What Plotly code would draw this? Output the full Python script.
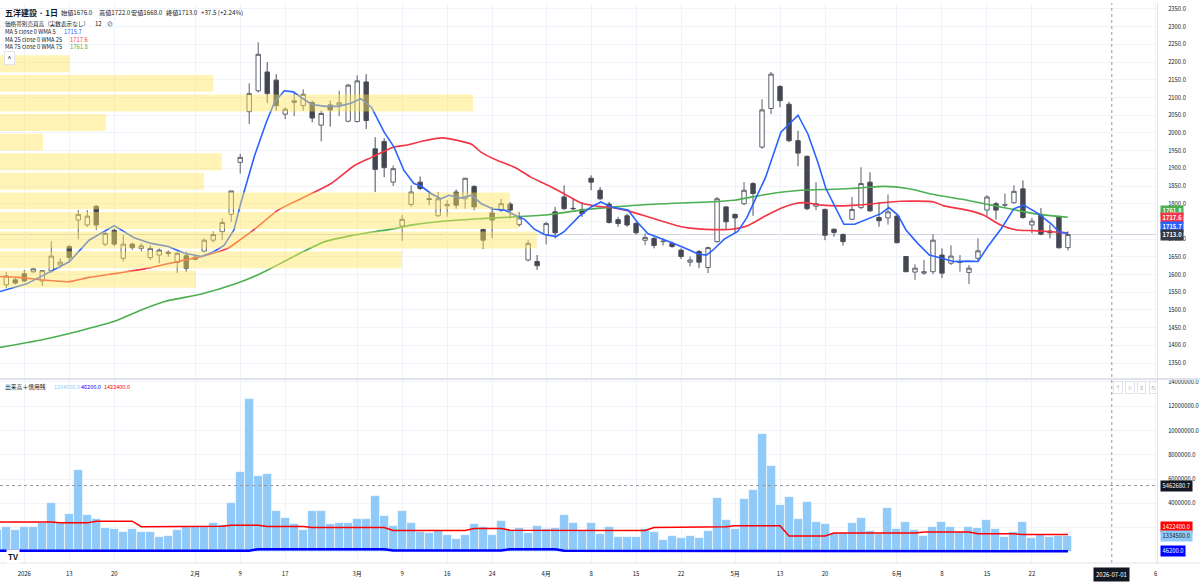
import pandas as pd
import plotly.graph_objects as go
from plotly.subplots import make_subplots

FONT = "Noto Sans CJK JP, Noto Sans, sans-serif"
INK = "#131722"
GRID = "#f0f3fa"
BORDER = "#e0e3eb"

# ── sessions on screen (TSE), 2025-12-26 .. 2026-06-26 ─────────────────────
tse_holidays = ["2025-12-31", "2026-01-01", "2026-01-02", "2026-01-12", "2026-02-11",
                "2026-02-23", "2026-03-20", "2026-04-29", "2026-05-04", "2026-05-05",
                "2026-05-06"]
sessions = [d for d in pd.bdate_range("2025-12-26", "2026-06-26")
            if d.strftime("%Y-%m-%d") not in tse_holidays]
bar = [i - 3 for i in range(len(sessions))]  # 0 = first session of 2026

# ── daily OHLC ────────────────────────────────────────────────────────────
opens = [1562, 1571, 1585, 1602, 1608, 1582, 1610, 1627, 1679, 1754,
         1740, 1793, 1686, 1725, 1646, 1686, 1674, 1648, 1655, 1663,
         1634, 1653, 1649, 1666, 1697, 1721, 1770, 1917, 2060, 2119,
         2172, 2149, 2053, 2086, 2077, 2086, 2022, 2079, 2079, 2033,
         2032, 2144, 1955, 1976, 1861, 1737, 1798, 1861, 1814, 1766,
         1794, 1833, 1814, 1849, 1727, 1774, 1782, 1799, 1741, 1641,
         1637, 1713, 1777, 1819, 1787, 1784, 1872, 1838, 1799, 1755,
         1766, 1744, 1697, 1702, 1693, 1688, 1669, 1635, 1665, 1620,
         1693, 1791, 1770, 1800, 1857, 1960, 2069, 2131, 2081, 1978,
         1934, 1793, 1784, 1728, 1713, 1756, 1789, 1861, 1761, 1760,
         1765, 1651, 1607, 1604, 1608, 1655, 1632, 1634, 1606, 1646,
         1782, 1800, 1796, 1803, 1842, 1740, 1770, 1723, 1763, 1676]
highs = [1566, 1608, 1590, 1613, 1619, 1613, 1694, 1646, 1683, 1782,
         1782, 1796, 1722, 1730, 1711, 1690, 1688, 1683, 1674, 1668,
         1665, 1665, 1655, 1702, 1722, 1758, 1836, 1941, 2140, 2256,
         2200, 2166, 2072, 2114, 2123, 2091, 2063, 2091, 2119, 2138,
         2163, 2166, 1988, 1985, 1908, 1768, 1852, 1877, 1833, 1833,
         1810, 1840, 1873, 1852, 1730, 1791, 1814, 1805, 1777, 1697,
         1655, 1749, 1791, 1852, 1814, 1805, 1880, 1847, 1805, 1763,
         1772, 1749, 1716, 1707, 1702, 1693, 1674, 1651, 1669, 1679,
         1819, 1793, 1772, 1861, 1861, 2095, 2172, 2135, 2088, 2006,
         1936, 1861, 1786, 1730, 1716, 1819, 1903, 1889, 1805, 1826,
         1768, 1652, 1629, 1641, 1714, 1674, 1683, 1655, 1627, 1702,
         1824, 1805, 1829, 1852, 1866, 1760, 1788, 1741, 1766, 1722]
lows = [1550, 1562, 1572, 1578, 1604, 1568, 1605, 1618, 1636, 1700,
        1735, 1726, 1680, 1680, 1637, 1670, 1665, 1641, 1632, 1650,
        1604, 1608, 1640, 1662, 1690, 1697, 1749, 1885, 2025, 2114,
        2084, 2063, 2039, 2048, 2063, 2030, 1976, 2018, 2048, 2030,
        2030, 2011, 1833, 1875, 1850, 1695, 1791, 1838, 1796, 1763,
        1763, 1786, 1786, 1782, 1672, 1702, 1777, 1758, 1735, 1637,
        1613, 1685, 1702, 1782, 1782, 1763, 1838, 1810, 1744, 1735,
        1735, 1713, 1683, 1674, 1682, 1676, 1644, 1623, 1618, 1604,
        1690, 1726, 1716, 1796, 1766, 1955, 2053, 2072, 1974, 1906,
        1782, 1782, 1697, 1707, 1682, 1754, 1785, 1777, 1735, 1741,
        1688, 1607, 1585, 1599, 1601, 1590, 1627, 1608, 1573, 1637,
        1763, 1755, 1791, 1800, 1758, 1716, 1711, 1702, 1674, 1668]
closes = [1555, 1596, 1576, 1582, 1616, 1611, 1652, 1635, 1648, 1770,
          1765, 1740, 1716, 1686, 1686, 1676, 1681, 1674, 1669, 1660,
          1660, 1618, 1643, 1697, 1713, 1747, 1836, 1931, 2111, 2222,
          2111, 2077, 2067, 2091, 2109, 2042, 2055, 2065, 2085, 2135,
          2147, 2035, 1897, 1902, 1899, 1756, 1833, 1843, 1812, 1814,
          1798, 1796, 1872, 1791, 1697, 1754, 1800, 1782, 1760, 1688,
          1625, 1744, 1718, 1786, 1786, 1772, 1861, 1814, 1747, 1744,
          1740, 1718, 1705, 1682, 1694, 1679, 1651, 1641, 1635, 1676,
          1814, 1749, 1760, 1838, 1829, 2065, 2166, 2091, 1978, 1943,
          1786, 1800, 1711, 1719, 1693, 1784, 1857, 1780, 1752, 1777,
          1690, 1608, 1618, 1608, 1697, 1604, 1652, 1635, 1618, 1667,
          1819, 1782, 1797, 1835, 1761, 1751, 1714, 1718, 1675.5, 1713]

# ── daily volume (shares) ─────────────────────────────────────────────────
volume = [1820000, 2090000, 1790000, 2090000, 2010000, 2420000, 4000000, 2370000, 3100000, 6780000,
          3020000, 2690000, 1960000, 1850000, 1660000, 1850000, 1660000, 1660000, 1250000, 1330000,
          1820000, 2090000, 2090000, 2090000, 2420000, 2230000, 4000000, 6620000, 12560000, 6290000,
          6450000, 3400000, 2770000, 2260000, 1820000, 3400000, 3350000, 2310000, 2390000, 2340000,
          2690000, 2690000, 4600000, 2940000, 2150000, 3350000, 2420000, 1660000, 1550000, 1740000,
          1360000, 1080000, 1410000, 2280000, 2070000, 1410000, 2560000, 1820000, 1930000, 1550000,
          2150000, 1870000, 1930000, 3070000, 2340000, 1740000, 2420000, 1470000, 2090000, 1190000,
          1250000, 1250000, 1880000, 1600000, 1000000, 1300000, 1140000, 1300000, 1140000, 1710000,
          4440000, 2640000, 1900000, 4350000, 5140000, 9750000, 7110000, 3890000, 4550000, 2690000,
          4110000, 2470000, 2260000, 1550000, 1550000, 2390000, 2770000, 1740000, 1440000, 3620000,
          1880000, 2450000, 1770000, 1300000, 2090000, 2450000, 2010000, 1600000, 2040000, 1980000,
          2610000, 1850000, 1190000, 1630000, 2450000, 1140000, 1380000, 1250000, 1300000, 1334500]

# ── margin balances (weekly, held until next figure): start bar, value ────
margin_buy_from = [-3, 4, 8, 13, 18, 23, 27, 32, 41, 50, 54, 60, 70, 74, 79, 85, 90, 100, 106, 111]
margin_buy = [2470000, 2390000, 2530000, 2070000, 2120000, 2200000, 2090000, 2010000, 1770000,
              1930000, 1790000, 1760000, 2010000, 2070000, 2150000, 1300000, 1550000, 1630000,
              1490000, 1422400]
margin_sell_from = [-3, 26, 41, 54, 60, 90]
margin_sell = [100000, 220000, 120000, 220000, 100000, 46200]

# ── weighted moving averages ──────────────────────────────────────────────
ma5_x = [-3, 0.2, 2.2, 5, 7.2, 10, 12.2, 14.1, 16, 17.8, 19.7, 21.1, 22.2, 23.3, 24.1, 25.6,
         26.9, 27.8, 28.9, 29.9, 30.8, 31.9, 33.4, 34.9, 36.3, 37.4, 38.6, 40, 41.1, 42.2, 43.3,
         44.1, 45.2, 46.3, 47.2, 48.6, 49.7, 50.8, 52.1, 53.4, 54.5, 55.6, 56.7, 57.8, 59.1, 60,
         61.6, 63, 64.1, 65.2, 67.1, 68.2, 69.3, 70.8, 72.2, 73.8, 74.9, 75.8, 76.5, 77.8, 79.3,
         80.3, 81.2, 82.4, 84.1, 86, 87.1, 88.2, 89.1, 90, 91.1, 92.3, 93.8, 95.2, 96.1, 97.1, 98,
         99.3, 100.6, 101.9, 103.3, 104.9, 106, 107.1, 108.6, 110, 111.1, 112.7, 114.1, 115, 116]
ma5_y = [1550, 1573, 1599, 1636, 1697, 1738, 1704, 1688, 1679, 1660, 1651, 1665, 1682, 1726, 1805,
         1936, 2030, 2086, 2119, 2116, 2100, 2081, 2075, 2075, 2084, 2097, 2072, 2002, 1960, 1894,
         1857, 1850, 1829, 1814, 1824, 1816, 1824, 1800, 1785, 1782, 1768, 1756, 1728, 1713, 1707,
         1721, 1763, 1791, 1805, 1791, 1782, 1746, 1716, 1702, 1688, 1671, 1658, 1655, 1668, 1700,
         1722, 1760, 1810, 1875, 2002, 2050, 1997, 1917, 1843, 1796, 1742, 1742, 1758, 1772, 1789,
         1768, 1726, 1688, 1655, 1646, 1637, 1638, 1637, 1679, 1730, 1786, 1796, 1772, 1744, 1721,
         1715.7]
ma25_x = [-3, -0.6, 2.2, 5, 7.2, 10.4, 13.4, 17.1, 19.7, 22.6, 24.1, 25.6, 28.2, 30.8, 34.1, 36.7,
          38.6, 41.1, 42.6, 44.1, 46.5, 49.7, 50.8, 52.6, 54.5, 56.3, 58.2, 60, 61.9, 63.7, 65.6,
          67.5, 69.3, 71.1, 73, 74.9, 76.7, 78.6, 80.4, 82.2, 84.1, 85.6, 86.7, 88.6, 90.8, 92.6,
          94.4, 97.4, 101.1, 102.2, 104.8, 106.6, 108.5, 110.3, 112.2, 114.1, 116]
ma25_y = [1595, 1592, 1584, 1580, 1592, 1604, 1616, 1637, 1651, 1674, 1700, 1728, 1782, 1815, 1857,
          1908, 1931, 1960, 1966, 1976, 1986, 1968, 1945, 1922, 1903, 1875, 1852, 1828, 1802, 1793,
          1788, 1777, 1763, 1749, 1735, 1729, 1727, 1728, 1738, 1763, 1787, 1800, 1803, 1796, 1794,
          1796, 1800, 1807, 1805, 1794, 1782, 1768, 1740, 1726, 1724, 1721, 1717.6]
ma75_x = [-3, 2, 6, 10, 13, 15.6, 19.7, 23.4, 25.6, 27, 30.8, 33.4, 36.3, 38.9, 41, 43.3, 47.1,
          50.8, 54.5, 58.2, 61.9, 65.6, 69.3, 73, 76, 78.9, 82.6, 86.3, 90, 92.6, 95.6, 98.2,
          101.1, 104.8, 108.5, 112.2, 116]
ma75_y = [1393, 1416, 1440, 1468, 1500, 1524, 1545, 1573, 1595, 1612, 1662, 1693, 1710, 1721, 1729,
          1741, 1752, 1758, 1763, 1769, 1782, 1791, 1798, 1802, 1805, 1810, 1827, 1838, 1841, 1844,
          1849, 1843, 1826, 1810, 1791, 1772, 1761.8]

# ── volume profile: 12 rows, top row first, relative volume ───────────────
vp_high, vp_low = 2223, 1559
vp_volume = [13.0, 39.7, 88.1, 19.7, 8.0, 41.3, 38.0, 95.0, 96.6, 100.0, 74.9, 36.5]

# ── axis labels ───────────────────────────────────────────────────────────
tick_dates = ["2026-01-05", "2026-01-13", "2026-01-20", "2026-02-02", "2026-02-09", "2026-02-17",
              "2026-03-02", "2026-03-09", "2026-03-16", "2026-03-24", "2026-04-01", "2026-04-08",
              "2026-04-15", "2026-04-22", "2026-05-01", "2026-05-13", "2026-05-20", "2026-06-01",
              "2026-06-08", "2026-06-15", "2026-06-22", "2026-07-06"]
tick_text = ["2026", "13", "20", "2月", "9", "17", "3月", "9", "16", "24", "4月", "8", "15", "22",
             "5月", "13", "20", "6月", "8", "15", "22", "6"]
price_ticks = list(range(1350, 2351, 50))
volume_ticks = list(range(2000000, 14000001, 2000000))
hidden_price_labels = [1750]          # sits under the price tags
hidden_volume_labels = [2000000]
cursor_date = "2026-07-01"
cursor_volume = 5462680.7
last_close = 1713.0


def bar_of(date):
    d = pd.Timestamp(date)
    if d in sessions:
        return bar[sessions.index(d)]
    # beyond the last bar the time scale runs on calendar days
    return bar[-1] + (d - sessions[-1]).days * 0.975


def held(starts, values):
    out = []
    for b in bar:
        v = values[0]
        for s, val in zip(starts, values):
            if b >= s:
                v = val
        out.append(v)
    return out


tick_pos = [bar_of(d) for d in tick_dates]
cursor_x = bar_of(cursor_date)

fig = make_subplots(rows=2, cols=1, shared_xaxes=True, vertical_spacing=0.004)

fig.add_trace(go.Candlestick(
    x=bar, open=opens, high=highs, low=lows, close=closes,
    increasing=dict(fillcolor="#ffffff", line=dict(color="#5d606b", width=1)),
    decreasing=dict(fillcolor="#434651", line=dict(color="#4a4d57", width=1)),
    whiskerwidth=0, hoverinfo="skip", showlegend=False), row=1, col=1)
fig.add_trace(go.Scatter(x=ma75_x, y=ma75_y, mode="lines", line=dict(color="#4caf50", width=1.6, shape="spline", smoothing=0.6),
                         hoverinfo="skip"), row=1, col=1)
fig.add_trace(go.Scatter(x=ma25_x, y=ma25_y, mode="lines", line=dict(color="#f23645", width=1.6, shape="spline", smoothing=0.6),
                         hoverinfo="skip"), row=1, col=1)
fig.add_trace(go.Scatter(x=ma5_x, y=ma5_y, mode="lines", line=dict(color="#2962ff", width=1.6),
                         hoverinfo="skip"), row=1, col=1)

fig.add_trace(go.Bar(x=bar, y=volume, width=1.0,
                     marker=dict(color="#90caf9", line=dict(color="rgba(255,255,255,0.75)", width=0.8)),
                     hoverinfo="skip"), row=2, col=1)
fig.add_trace(go.Scatter(x=bar, y=held(margin_buy_from, margin_buy), mode="lines",
                         line=dict(color="#ff0000", width=1.5), hoverinfo="skip"), row=2, col=1)
fig.add_trace(go.Scatter(x=bar, y=held(margin_sell_from, margin_sell), mode="lines",
                         line=dict(color="#0000ff", width=2.5), hoverinfo="skip"), row=2, col=1)

# volume profile rows, drawn over candles like the original
pitch = (vp_high - vp_low) / len(vp_volume)
for k, v in enumerate(vp_volume):
    hi = vp_high - k * pitch - 0.068 * pitch
    lo = vp_high - (k + 1) * pitch + 0.068 * pitch
    fig.add_shape(type="rect", xref="x domain", yref="y", x0=0, x1=v / 100 * 0.464,
                  y0=lo, y1=hi, fillcolor="rgba(255,230,90,0.45)", line_width=0, layer="above")

# last price line, crosshair, pane borders
fig.add_shape(type="line", xref="paper", yref="y", x0=0, x1=1, y0=last_close, y1=last_close,
              line=dict(color="#d1d4dc", width=1), layer="below")
fig.add_shape(type="line", xref="x", yref="paper", x0=cursor_x, x1=cursor_x, y0=0, y1=1,
              line=dict(color="#9598a1", width=1, dash="dot"), layer="above")
fig.add_shape(type="line", xref="paper", yref="y2", x0=0, x1=1, y0=cursor_volume, y1=cursor_volume,
              line=dict(color="#9598a1", width=1, dash="dot"), layer="above")
fig.add_shape(type="line", xref="paper", yref="paper", x0=0, x1=1.04, y0=0.3286, y1=0.3286,
              line=dict(color=BORDER, width=2))
fig.add_shape(type="line", xref="paper", yref="paper", x0=0, x1=1.04, y0=0, y1=0,
              line=dict(color=BORDER, width=1))

PW, PH = 1157, 563


def px(v):
    return v / PW


def py(v):
    return 1 - v / PH


def text(s, x, y, size=6, color=INK, **kw):
    fig.add_annotation(text=s, x=px(x), y=py(y), xref="paper", yref="paper", xanchor="left",
                       yanchor="middle", showarrow=False, font=dict(size=size, color=color, family=FONT), **kw)


# legend header
text("<b>五洋建設 · 1日</b>", 3, 10, size=8)
for s, x in [("始値1676.0", 59), ("高値1722.0", 97), ("安値1668.0", 129), ("終値1713.0", 164),
             ("+37.5 (+2.24%)", 199)]:
    text(s, x, 10, size=6.2)
text("価格帯別売買高（実数表示なし）", 3, 20.7, size=5.6)
text("12", 93, 20.7, size=6)
text("⊘", 105, 20.7, size=6)
text("MA 5 close 0 WMA 5", 3, 29, size=5.7)
text("1715.7", 62, 29, size=5.8, color="#2962ff")
text("MA 25 close 0 WMA 25", 3, 36.3, size=5.7)
text("1717.6", 68, 36.3, size=5.8, color="#f23645")
text("MA 75 close 0 WMA 75", 3, 43.5, size=5.7)
text("1761.8", 68, 43.5, size=5.8, color="#4caf50")
text("&nbsp;^&nbsp;", 4, 55, size=7, bgcolor="#ffffff", bordercolor=BORDER, borderwidth=1, borderpad=1)

text("出来高＋信用残", 3, 385.7, size=5.8)
text("1334500.0", 51.5, 385.7, size=5.5, color="#90caf9")
text("46200.0", 79, 385.7, size=5.5, color="#0000ff")
text("1422400.0", 102, 385.7, size=5.5, color="#ff0000")
for s, x in [("↑", 1113), ("×", 1125), ("⇕", 1137), ("↻", 1149)]:
    text(s, x, 386.7, size=6, color="#b2b5be", bordercolor=BORDER, borderwidth=1, borderpad=1)
text("<b>TV</b>", 6, 556, size=8, color=INK, bgcolor="#ffffff")


def tag(yref, val, s, bg, fg="#ffffff", shift=0):
    fig.add_annotation(text="&nbsp;" + s + "&nbsp;", x=1, xref="paper", xanchor="left", xshift=3,
                       y=val, yref=yref, yanchor="middle", yshift=shift, showarrow=False,
                       bgcolor=bg, borderpad=0.3, font=dict(size=5.8, color=fg, family=FONT))


tag("y", 1761.8, "<b>1761.8</b>", "#4caf50", shift=6)
tag("y", 1717.6, "<b>1717.6</b>", "#f23645", shift=15)
tag("y", 1715.7, "<b>1715.7</b>", "#2962ff", shift=7)
tag("y", 1713.0, "<b>1713.0</b>", "#363a45")
tag("y2", cursor_volume, "5462680.7", "#131722")
tag("y2", 1422400, "1422400.0", "#ff0000", shift=8)
tag("y2", 1334500, "1334500.0", "#90caf9", fg=INK)
tag("y2", 46200, "46200.0", "#0000ff")
fig.add_annotation(text="2026-07-01", x=cursor_x, xref="x", y=0, yref="paper", yshift=-11,
                   yanchor="middle", showarrow=False, bgcolor="#131722", borderpad=2,
                   font=dict(size=6, color="#ffffff", family=FONT))

fig.update_layout(
    width=1200, height=585, margin=dict(l=0, r=43, t=0, b=22),
    paper_bgcolor="#ffffff", plot_bgcolor="#ffffff", showlegend=False, bargap=0,
    font=dict(family=FONT, size=6, color=INK),
)
fig.update_xaxes(range=[-2.7, 125.9], tickvals=tick_pos, ticktext=tick_text, showgrid=True,
                 gridcolor=GRID, gridwidth=1, zeroline=False, ticks="", showline=False,
                 rangeslider_visible=False, tickfont=dict(size=6, color=INK))
fig.update_xaxes(ticklabelstandoff=6, row=2, col=1)
fig.update_yaxes(side="right", showgrid=True, gridcolor=GRID, zeroline=False, ticks="",
                 showline=True, linecolor=BORDER, ticklabelstandoff=9,
                 tickfont=dict(size=5.8, color=INK))
fig.update_layout(
    yaxis=dict(domain=[0.3304, 1], range=[1307.9, 2366.9], tickvals=price_ticks,
               ticktext=["" if v in hidden_price_labels else f"{v:.1f}" for v in price_ticks]),
    yaxis2=dict(domain=[0, 0.3268], range=[-918000, 14164000], tickvals=volume_ticks,
                ticktext=["" if v in hidden_volume_labels else f"{v:.1f}" for v in volume_ticks]),
)

# the page's default body margin would shift the chart; drop it
fig.write_html("out.html", config={"displayModeBar": False},
               post_script="document.body.style.margin='0';")
